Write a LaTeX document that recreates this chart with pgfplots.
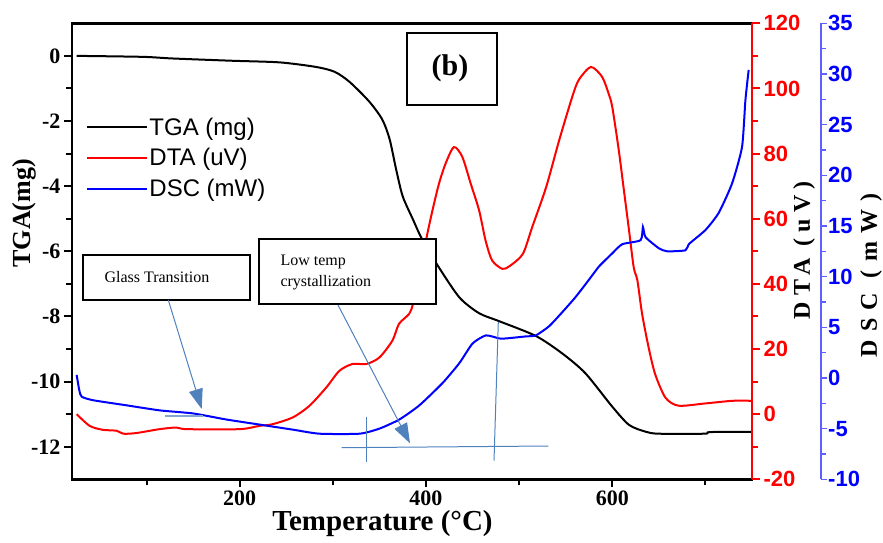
\documentclass[border=0pt]{standalone}
\usepackage{pgfplots}
\pgfplotsset{compat=1.18}
\usepackage{fontspec}
\setmainfont{Liberation Serif}
\setsansfont{Liberation Sans}
\usetikzlibrary{arrows.meta}
\definecolor{annblue}{RGB}{79,129,189}
\definecolor{dscaxis}{RGB}{95,95,255}

\begin{document}
\begin{tikzpicture}
\useasboundingbox (-72pt,-62.7pt) rectangle (811pt,479.3pt);
% ---------------- TGA axis ----------------
\begin{axis}[
  at={(0pt,0pt)}, anchor=south west,
  scale only axis, width=680pt, height=456pt,
  xmin=20, xmax=750, ymin=-13, ymax=1,
  axis line style={line width=2.5pt},
  xtick={200,400,600}, xticklabels={200,400,600},
  minor xtick={100,300,500,700},
  ytick={-12,-10,-8,-6,-4,-2,0}, yticklabels={-12,-10,-8,-6,-4,-2,0},
  minor ytick={-11,-9,-7,-5,-3,-1},
  xtick pos=bottom, ytick pos=left,
  tick align=outside,
  major tick length=8pt, minor tick length=6pt,
  every tick/.append style={black, line width=2pt},
  tick label style={font=\fontsize{22}{22}\selectfont\bfseries},
]
\addplot[black, line width=2pt, smooth, tension=0.45] table {
25 0
96 -0.03
128 -0.08
192 -0.15
243 -0.2
282 -0.34
302 -0.49
318 -0.8
339 -1.4
353 -1.95
361 -2.56
368 -3.49
375 -4.31
386 -5.02
396 -5.64
414 -6.5
436 -7.42
457 -7.9
479 -8.15
518 -8.6
546 -9.13
571 -9.74
600 -10.77
618 -11.33
636 -11.54
650 -11.6
699 -11.6
705 -11.55
750 -11.54
};
\end{axis}
% ---------------- DTA axis ----------------
\begin{axis}[
  at={(0pt,0pt)}, anchor=south west,
  scale only axis, width=680pt, height=456pt,
  xmin=20, xmax=750, ymin=-20, ymax=120,
  axis x line=none, axis y line*=right,
  y axis line style={red, line width=2.5pt},
  ytick={-20,0,20,40,60,80,100,120}, yticklabels={-20,0,20,40,60,80,100,120},
  minor ytick={-10,10,30,50,70,90,110},
  tick align=outside,
  major tick length=8pt, minor tick length=6pt,
  every tick/.append style={red, line width=2pt},
  yticklabel style={red, font=\fontsize{22}{22}\selectfont\sffamily\bfseries},
]
\addplot[red, line width=2pt, smooth, tension=0.45] table {
25 0
39 -3.6
53 -4.8
68 -5.1
75 -6.0
89 -5.8
114 -4.6
132 -4.1
143 -4.6
200 -4.6
221 -3.6
235 -3.1
257 -1.0
275 2.6
293 8.2
307 13.3
321 15.4
336 15.4
350 17.4
364 22.6
371 27.7
382 30.8
386 33.8
393 42
400 53.3
407 62.6
414 70.8
421 76.9
430 82
439 79
448 70.8
457 62.6
464 53.3
471 47.2
482 44.6
490 45.5
504 49.2
514 57.4
529 69.7
543 84.1
557 97.4
564 102.6
577 106.6
589 103.6
596 98.5
600 94.3
607 81
612.5 68.7
618 56.4
623 45.1
627 41
632 30.8
639 20.5
646 12.3
657 5.1
671 2.6
700 3.3
729 4.1
749 4.1
};
\end{axis}
% ---------------- DSC axis ----------------
\begin{axis}[
  at={(0pt,0pt)}, anchor=south west,
  scale only axis, width=749pt, height=456pt,
  xmin=20, xmax=824.06, ymin=-10, ymax=35,
  axis x line=none, axis y line*=right,
  y axis line style={dscaxis, line width=2pt},
  ytick={-10,-5,0,5,10,15,20,25,30,35}, yticklabels={-10,-5,0,5,10,15,20,25,30,35},
  minor ytick={-7.5,-2.5,2.5,7.5,12.5,17.5,22.5,27.5,32.5},
  tick align=outside,
  major tick length=6pt, minor tick length=5pt,
  every tick/.append style={dscaxis, line width=1.5pt},
  yticklabel style={blue, inner sep=1pt, font=\fontsize{22}{22}\selectfont\sffamily\bfseries},
  legend style={at={(0.015,0.80)}, anchor=north west, draw=none, fill=none,
    font=\fontsize{24}{24}\selectfont\sffamily, row sep=10pt, nodes={inner sep=1pt}},
  legend image code/.code={\draw[#1] (0pt,0pt) -- (60pt,0pt);},
  legend cell align=left,
]
\addlegendimage{black, line width=2pt}
\addlegendentry{TGA (mg)}
\addlegendimage{red, line width=2pt}
\addlegendentry{DTA (uV)}
\addplot[blue, line width=2pt, smooth, tension=0.35] table {
25 0.3
27.8 -1.2
30.4 -1.85
42.8 -2.2
78.6 -2.7
114.3 -3.2
150 -3.5
185.7 -4.1
221.4 -4.6
257.1 -5.1
285.7 -5.5
328.6 -5.5
350 -5.0
371.4 -4.1
392.9 -2.7
417.8 -0.5
435.7 1.45
450 3.4
464.3 4.2
478.6 3.9
485.7 3.9
507.1 4.1
517.9 4.2
532.1 5.1
546.4 6.5
560.7 8.0
575 9.7
585.7 11.0
600 12.3
610.7 13.2
630.4 13.6
632.9 14.9
635.7 13.9
650 12.8
658.9 12.5
678.6 12.6
682.1 13.2
700 14.6
714.3 16.3
728.6 19.2
739.3 22.8
742.9 27.4
746.4 30.4
};
\addlegendentry{DSC (mW)}
\end{axis}
% ---------------- axis titles ----------------
\node[rotate=90, font=\fontsize{26}{26}\selectfont\bfseries] at (-48pt,266pt) {TGA(mg)};
\node[font=\fontsize{29}{29}\selectfont\bfseries] at (310.5pt,-44.7pt) {Temperature (°C)};
\node[rotate=90, font=\fontsize{24}{24}\selectfont\bfseries\addfontfeatures{LetterSpace=25}] at (732pt,229pt) {DTA (uV)};
\node[rotate=90, font=\fontsize{24}{24}\selectfont\bfseries\addfontfeatures{LetterSpace=35}] at (799pt,204pt) {DSC (mW)};
% ---------------- annotations ----------------
\draw[line width=1.2pt, fill=white] (11pt,179.3pt) rectangle (178pt,224.3pt);
\node[anchor=west, font=\fontsize{16}{16}\selectfont] at (29pt,202pt) {Glass Transition};
\draw[line width=1.2pt, fill=white] (187pt,175.3pt) rectangle (364pt,240.3pt);
\node[anchor=west, align=left, font=\fontsize{16}{21}\selectfont] at (205pt,207pt) {Low temp\\crystallization};
\draw[line width=1.2pt, fill=white] (335pt,374.3pt) rectangle (425pt,446.3pt);
\node[font=\fontsize{30}{30}\selectfont\bfseries] at (378pt,411pt) {(b)};
\draw[annblue, line width=1pt, -{Triangle[width=14pt,length=20pt]}] (96.3pt,179.3pt) -- (129.7pt,70.3pt);
\draw[annblue!70, line width=1.2pt] (93pt,63.3pt) -- (131pt,63.3pt);
\draw[annblue, line width=1pt, -{Triangle[width=14pt,length=20pt]}] (266pt,174.3pt) -- (338pt,36pt);
\draw[annblue, line width=1pt] (269.7pt,31.6pt) -- (476.3pt,33.3pt);
\draw[annblue, line width=1pt] (294pt,62.6pt) -- (294pt,17.6pt);
\draw[annblue, line width=1pt] (426.3pt,157.3pt) -- (422pt,18.6pt);
\end{tikzpicture}
\end{document}
